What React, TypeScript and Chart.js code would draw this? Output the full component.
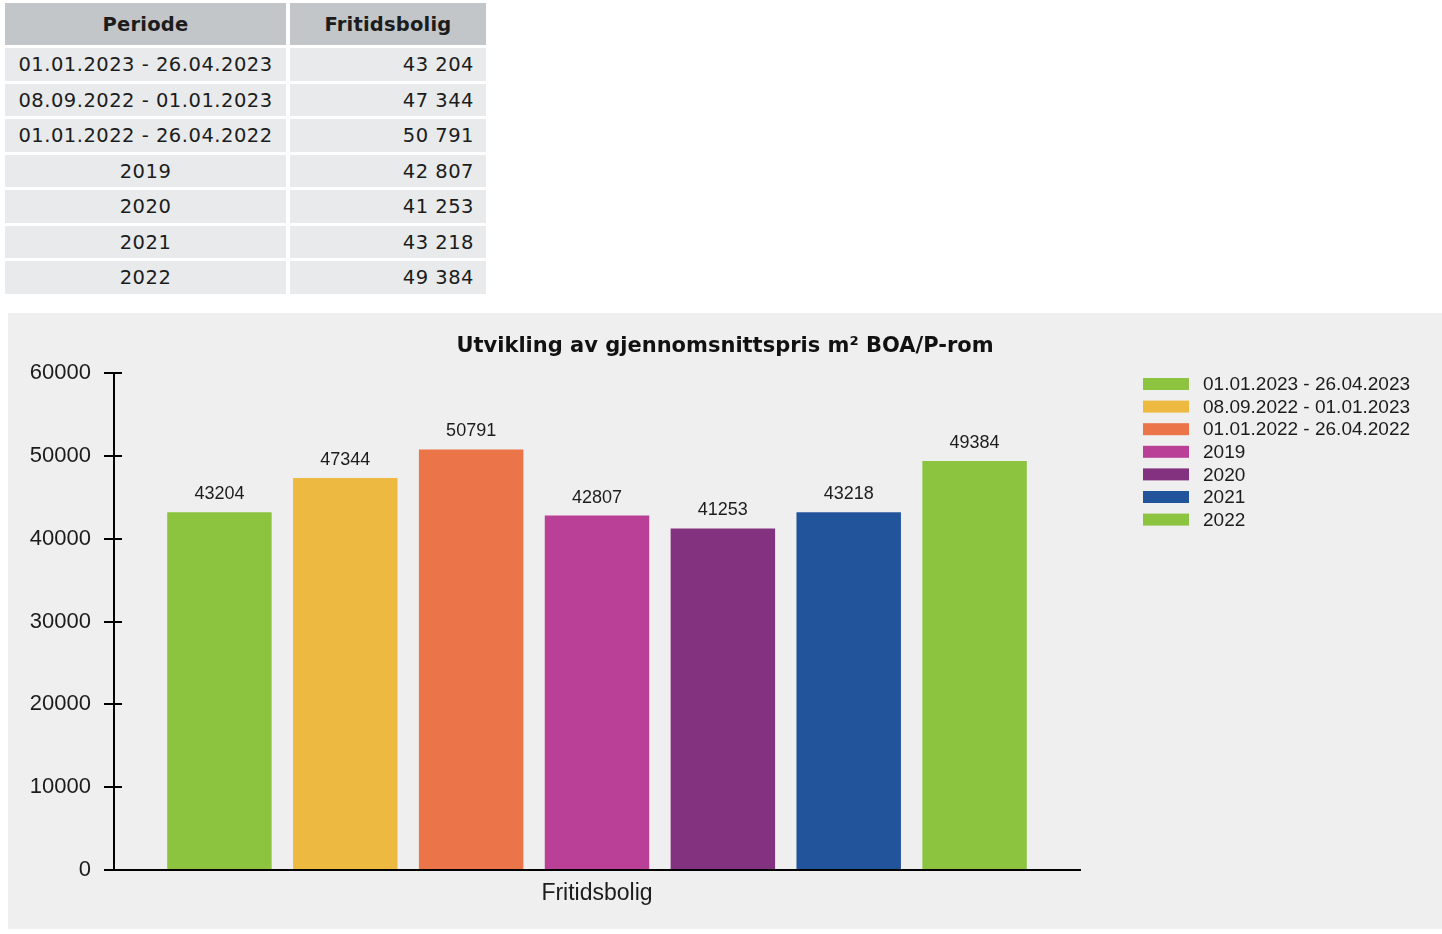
import React, { useEffect, useRef } from "react";
import { Chart, registerables } from "chart.js";

Chart.register(...registerables);

const tableHeaders = ["Periode", "Fritidsbolig"];
const periods = [
  "01.01.2023 - 26.04.2023",
  "08.09.2022 - 01.01.2023",
  "01.01.2022 - 26.04.2022",
  "2019",
  "2020",
  "2021",
  "2022",
];
const prices = [43204, 47344, 50791, 42807, 41253, 43218, 49384];
const barColors = ["#8cc43f", "#eeb940", "#ec7449", "#b94096", "#83327f", "#22549b", "#8cc43f"];
const categories = ["Fritidsbolig"];
const chartTitle = "Utvikling av gjennomsnittspris m\u00b2 BOA/P-rom";
const yMin = 0;
const yMax = 60000;
const yStep = 10000;

const SANS = "'Liberation Sans', Arial, sans-serif";
const TEXT = "#1c1c1c";

function fmt(v: number): string {
  return String(v).replace(/\B(?=(\d{3})+(?!\d))/g, " ");
}

const innerTicks = {
  id: "innerTicks",
  afterDraw(chart: any) {
    const s = chart.scales.y;
    const ctx = chart.ctx;
    const left = chart.chartArea.left;
    ctx.save();
    ctx.strokeStyle = "#000";
    ctx.lineWidth = 2;
    s.ticks.forEach((t: any) => {
      const y = Math.round(s.getPixelForValue(t.value));
      ctx.beginPath();
      ctx.moveTo(left, y);
      ctx.lineTo(left + 8, y);
      ctx.stroke();
    });
    ctx.restore();
  },
};

const valueLabels = {
  id: "valueLabels",
  afterDatasetsDraw(chart: any) {
    const ctx = chart.ctx;
    ctx.save();
    ctx.font = `18px ${SANS}`;
    ctx.fillStyle = TEXT;
    ctx.textAlign = "center";
    ctx.textBaseline = "alphabetic";
    chart.data.datasets.forEach((ds: any, i: number) => {
      const meta = chart.getDatasetMeta(i);
      meta.data.forEach((el: any, j: number) => {
        ctx.fillText(String(ds.data[j]), el.x, el.y - 13);
      });
    });
    ctx.restore();
  },
};

const sideLegend = {
  id: "sideLegend",
  afterDraw(chart: any) {
    const ctx = chart.ctx;
    const x0 = chart.chartArea.right + 63;
    const y0 = 71;
    const step = 22.6;
    ctx.save();
    ctx.font = `19px ${SANS}`;
    ctx.textAlign = "left";
    ctx.textBaseline = "middle";
    chart.data.datasets.forEach((ds: any, i: number) => {
      const y = y0 + i * step;
      ctx.fillStyle = ds.backgroundColor;
      ctx.fillRect(x0, y - 6, 46, 12);
      ctx.fillStyle = TEXT;
      ctx.fillText(ds.label, x0 + 60, y + 1);
    });
    ctx.restore();
  },
};

function BarChart() {
  const ref = useRef<HTMLCanvasElement | null>(null);
  useEffect(() => {
    if (!ref.current) return;
    const chart = new Chart(ref.current, {
      type: "bar",
      data: {
        labels: categories,
        datasets: periods.map((p, i) => ({
          label: p,
          data: [prices[i]],
          backgroundColor: barColors[i],
          yAxisID: "y",
          categoryPercentage: 0.912,
          barPercentage: 0.83,
        })),
      },
      options: {
        responsive: false,
        animation: false,
        devicePixelRatio: 1,
        layout: { padding: 0 },
        plugins: {
          legend: { display: false },
          tooltip: { enabled: false },
          title: {
            display: true,
            text: chartTitle,
            color: "#111",
            font: { family: "'DejaVu Sans', Verdana, sans-serif", size: 21, weight: "bold" },
            padding: { top: 21, bottom: 14 },
          },
        },
        scales: {
          x: {
            grid: { display: false, drawTicks: false },
            border: { display: true, color: "#000", width: 2 },
            ticks: { color: TEXT, font: { family: SANS, size: 23 }, padding: 10 },
            afterFit: (s: any) => {
              s.height = 59;
            },
          },
          y: {
            min: yMin,
            max: yMax,
            ticks: {
              stepSize: yStep,
              color: TEXT,
              font: { family: SANS, size: 22 },
              padding: 13,
              callback: (v: any) => String(v),
            },
            grid: { drawOnChartArea: false, tickLength: 10, color: "#000", lineWidth: 2 },
            border: { display: true, color: "#000", width: 2 },
            afterFit: (s: any) => {
              s.width = 106;
            },
          },
          y2: {
            position: "right",
            display: true,
            grid: { display: false, drawTicks: false },
            border: { display: false },
            ticks: { display: false },
            afterFit: (s: any) => {
              s.width = 362;
            },
          },
        },
      },
      plugins: [innerTicks, valueLabels, sideLegend],
    } as any);
    return () => chart.destroy();
  }, []);
  return (
    <div style={{ position: "absolute", left: 8, top: 313, width: 1434, height: 616, background: "#efefef" }}>
      <canvas ref={ref} width={1434} height={616} style={{ display: "block" }} />
    </div>
  );
}

function DataTable() {
  const cell: React.CSSProperties = {
    display: "flex",
    alignItems: "center",
    fontFamily: "'DejaVu Sans', Verdana, sans-serif",
    fontSize: 19.5,
    letterSpacing: "0.5px",
    color: TEXT,
    background: "#e8eaeb",
    boxSizing: "border-box",
    paddingTop: 1,
  };
  const head: React.CSSProperties = {
    ...cell,
    letterSpacing: "0.2px",
    background: "#c3c6c9",
    fontWeight: "bold",
    justifyContent: "center",
  };
  return (
    <div
      style={{
        position: "absolute",
        left: 5,
        top: 3,
        display: "grid",
        gridTemplateColumns: "281px 196px",
        gridTemplateRows: `42px repeat(${periods.length}, 32.5px)`,
        columnGap: 4,
        rowGap: 3,
      }}
    >
      <div style={head}>{tableHeaders[0]}</div>
      <div style={head}>{tableHeaders[1]}</div>
      {periods.map((p, i) => (
        <React.Fragment key={p}>
          <div style={{ ...cell, justifyContent: "center" }}>{p}</div>
          <div style={{ ...cell, justifyContent: "flex-end", paddingRight: 12 }}>{fmt(prices[i])}</div>
        </React.Fragment>
      ))}
    </div>
  );
}

export default function App() {
  return (
    <div>
      <DataTable />
      <BarChart />
    </div>
  );
}
